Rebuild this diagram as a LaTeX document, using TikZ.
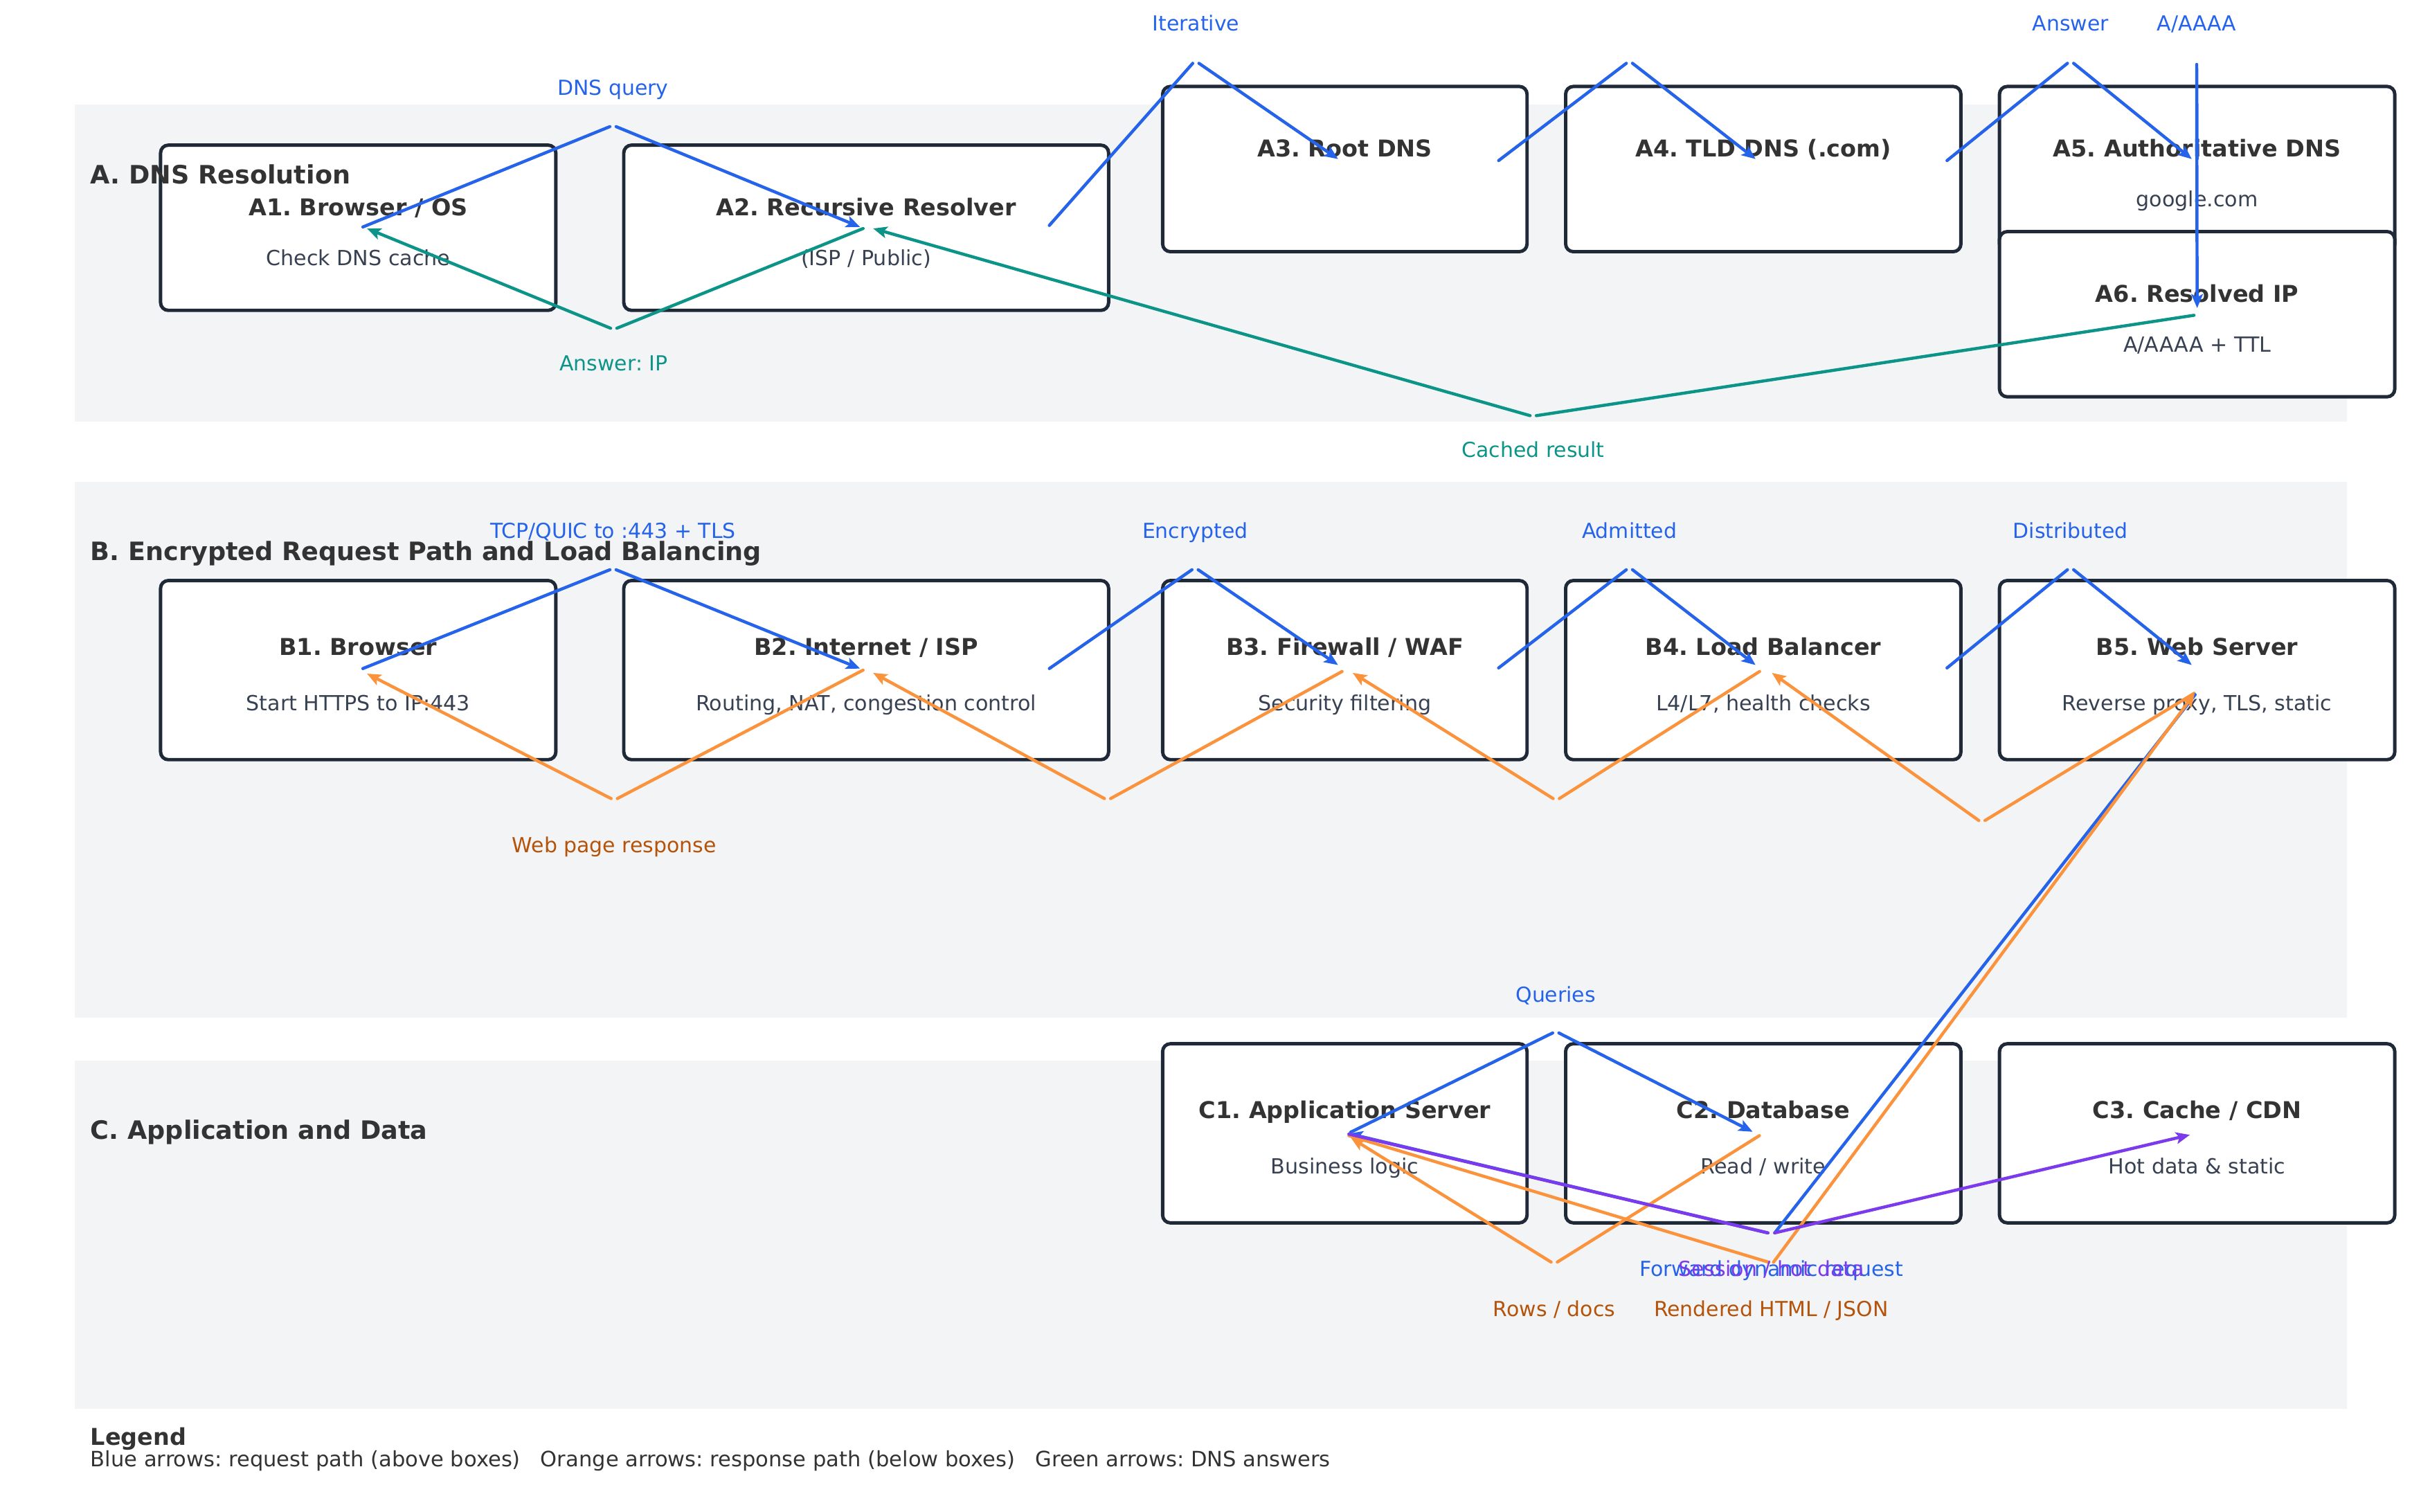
\documentclass[tikz,border=0pt]{standalone}
\usepackage{fontspec}
\setmainfont{DejaVu Sans}
\usetikzlibrary{arrows.meta}
\definecolor{panelgray}{HTML}{F3F4F6}
\definecolor{boxline}{HTML}{1F2937}
\definecolor{ink}{HTML}{333333}
\definecolor{subink}{HTML}{374151}
\definecolor{reqblue}{HTML}{2563EB}
\definecolor{dnsgreen}{HTML}{0D9488}
\definecolor{resporange}{HTML}{FB923C}
\definecolor{resptext}{HTML}{B45309}
\definecolor{hotpurple}{HTML}{7C3AED}
\frenchspacing
\tikzset{procbox/.style n args={2}{draw=boxline, line width=2.2pt, fill=white, rounded corners=5pt, minimum width=#1, minimum height=#2, inner sep=0pt},
  boxtitle/.style={anchor=base, inner sep=0pt, text=ink, font=\fontsize{15}{18}\selectfont\bfseries},
  boxsub/.style={anchor=base, inner sep=0pt, text=subink, font=\fontsize{13.5}{16}\selectfont},
  sectitle/.style={anchor=base west, inner sep=0pt, text=ink, font=\fontsize{16.4}{20}\selectfont\bfseries},
  lbl/.style={anchor=base, inner sep=0pt, font=\fontsize{13.4}{16}\selectfont},
  flow/.style={line width=2pt, line cap=round, line join=round, -{Stealth[length=9pt,width=7.5pt,inset=2pt]}},
  req/.style={flow, draw=reqblue}, resp/.style={flow, draw=resporange},
  dnsans/.style={flow, draw=dnsgreen}, hotdata/.style={flow, draw=hotpurple}}

\begin{document}
\begin{tikzpicture}[x=1pt, y=-1pt]
  \useasboundingbox (0,0) rectangle (1568,979);
  % section bands
  \fill[panelgray] (48.5, 67.7) rectangle (1520,273);
  \fill[panelgray] (48.5,312) rectangle (1520,659);
  \fill[panelgray] (48.5,687) rectangle (1520,912.4);

  % row A
  \node[procbox={256pt}{107pt}] (A1) at ( 232,147.5) {};
  \node[procbox={314pt}{107pt}] (A2) at ( 561,147.5) {};
  \node[procbox={236pt}{107pt}] (A3) at ( 871,109.5) {};
  \node[procbox={256pt}{107pt}] (A4) at (1142,109.5) {};
  \node[procbox={256pt}{107pt}] (A5) at (1423,109.5) {};
  \node[procbox={256pt}{107pt}] (A6) at (1423,203.5) {};
  \node[boxtitle] (A1t) at ([yshift=8pt]A1.center) {A1. Browser / OS};
  \node[boxsub]   (A1s) at ([yshift=-24.5pt]A1.center) {Check DNS cache};
  \node[boxtitle] (A2t) at ([yshift=8pt]A2.center) {A2. Recursive Resolver};
  \node[boxsub]   (A2s) at ([yshift=-24.5pt]A2.center) {(ISP / Public)};
  \node[boxtitle] (A3t) at ([yshift=8pt]A3.center) {A3. Root DNS};
  \node[boxtitle] (A4t) at ([yshift=8pt]A4.center) {A4. TLD DNS (.com)};
  \node[boxtitle] (A5t) at ([yshift=8pt]A5.center) {A5. Authoritative DNS};
  \node[boxsub]   (A5s) at ([yshift=-24.5pt]A5.center) {google.com};
  \node[boxtitle] (A6t) at ([yshift=8pt]A6.center) {A6. Resolved IP};
  \node[boxsub]   (A6s) at ([yshift=-24.5pt]A6.center) {A/AAAA + TTL};

  % row B
  \node[procbox={256pt}{116pt}] (B1) at ( 232,434) {};
  \node[procbox={314pt}{116pt}] (B2) at ( 561,434) {};
  \node[procbox={236pt}{116pt}] (B3) at ( 871,434) {};
  \node[procbox={256pt}{116pt}] (B4) at (1142,434) {};
  \node[procbox={256pt}{116pt}] (B5) at (1423,434) {};
  \node[boxtitle] (B1t) at ([yshift=9.5pt]B1.center) {B1. Browser};
  \node[boxsub]   (B1s) at ([yshift=-26.3pt]B1.center) {Start HTTPS to IP:443};
  \node[boxtitle] (B2t) at ([yshift=9.5pt]B2.center) {B2. Internet / ISP};
  \node[boxsub]   (B2s) at ([yshift=-26.3pt]B2.center) {Routing, NAT, congestion control};
  \node[boxtitle] (B3t) at ([yshift=9.5pt]B3.center) {B3. Firewall / WAF};
  \node[boxsub]   (B3s) at ([yshift=-26.3pt]B3.center) {Security filtering};
  \node[boxtitle] (B4t) at ([yshift=9.5pt]B4.center) {B4. Load Balancer};
  \node[boxsub]   (B4s) at ([yshift=-26.3pt]B4.center) {L4/L7, health checks};
  \node[boxtitle] (B5t) at ([yshift=9.5pt]B5.center) {B5. Web Server};
  \node[boxsub]   (B5s) at ([yshift=-26.3pt]B5.center) {Reverse proxy, TLS, static};

  % row C
  \node[procbox={236pt}{116pt}] (C1) at ( 871,734) {};
  \node[procbox={256pt}{116pt}] (C2) at (1142,734) {};
  \node[procbox={256pt}{116pt}] (C3) at (1423,734) {};
  \node[boxtitle] (C1t) at ([yshift=9.5pt]C1.center) {C1. Application Server};
  \node[boxsub]   (C1s) at ([yshift=-26.3pt]C1.center) {Business logic};
  \node[boxtitle] (C2t) at ([yshift=9.5pt]C2.center) {C2. Database};
  \node[boxsub]   (C2s) at ([yshift=-26.3pt]C2.center) {Read / write};
  \node[boxtitle] (C3t) at ([yshift=9.5pt]C3.center) {C3. Cache / CDN};
  \node[boxsub]   (C3s) at ([yshift=-26.3pt]C3.center) {Hot data \& static};

  % section titles sit over the boxes
  \node[sectitle] (secA) at (58.5,119) {A. DNS Resolution};
  \node[sectitle] (secB) at (58.5,363) {B. Encrypted Request Path and Load Balancing};
  \node[sectitle] (secC) at (58.5,738) {C. Application and Data};

  % bend points of the connectors
  \coordinate (q1) at (397,82);      \coordinate (q2) at (397.5,212.6);
  \coordinate (q3) at (993,269.2);   \coordinate (q4) at (774.5,41);
  \coordinate (q5) at (1055.3,41);   \coordinate (q6) at (1341,41);
  \coordinate (q7) at (1422.7,41.7);
  \coordinate (b1) at (397,369);     \coordinate (b2) at (397.8,517.2);
  \coordinate (b3) at (774,369);     \coordinate (b4) at (717.3,517.2);
  \coordinate (b5) at (1055.3,369);  \coordinate (b6) at (1007.9,517.2);
  \coordinate (b7) at (1341,369);    \coordinate (b8) at (1283.6,531.4);
  \coordinate (c1) at (1007.6,669);  \coordinate (c2) at (1006.6,817.4);
  \coordinate (c3) at (1147.2,798.5); \coordinate (c4) at (1147.1,817.5);

  % DNS resolution
  \draw[req] ([xshift=3pt,yshift=0.5pt]A1.center) -- ([xshift=-2pt]q1) ([xshift=2pt]q1) -- ([xshift=-4pt,yshift=0.5pt]A2.center);
  \draw[dnsans] ([xshift=-2pt,yshift=-0.5pt]A2.center) -- ([xshift=2pt]q2) ([xshift=-2pt]q2) -- ([xshift=5.7pt,yshift=-0.5pt]A1.center);
  \draw[req] ([xshift=118.6pt,yshift=1.5pt]A2.center) -- ([xshift=-2pt]q4) ([xshift=2pt]q4) -- ([xshift=-4.4pt,yshift=6.5pt]A3.center);
  \draw[req] ([xshift=99.6pt,yshift=5.5pt]A3.center) -- ([xshift=-2pt]q5) ([xshift=2pt]q5) -- ([xshift=-5pt,yshift=6.5pt]A4.center);
  \draw[req] ([xshift=119pt,yshift=5.5pt]A4.center) -- ([xshift=-2pt]q6) ([xshift=2pt]q6) -- ([xshift=-3.5pt,yshift=6.5pt]A5.center);
  \draw[req] ([yshift=6.5pt]A5.center) -- (q7) -- ([yshift=4pt]A6.center);
  \draw[dnsans] ([xshift=-2pt,yshift=-0.7pt]A6.center) -- ([xshift=2pt]q3) ([xshift=-2pt]q3) -- ([xshift=4.5pt,yshift=-0.5pt]A2.center);

  % request path and responses
  \draw[req] ([xshift=3pt,yshift=1pt]B1.center) -- ([xshift=-2pt]b1) ([xshift=2pt]b1) -- ([xshift=-4pt,yshift=1pt]B2.center);
  \draw[req] ([xshift=118.6pt,yshift=1pt]B2.center) -- ([xshift=-2pt]b3) ([xshift=2pt]b3) -- ([xshift=-4.4pt,yshift=3.3pt]B3.center);
  \draw[req] ([xshift=99.6pt,yshift=1.4pt]B3.center) -- ([xshift=-2pt]b5) ([xshift=2pt]b5) -- ([xshift=-5pt,yshift=3.3pt]B4.center);
  \draw[req] ([xshift=119pt,yshift=1.4pt]B4.center) -- ([xshift=-2pt]b7) ([xshift=2pt]b7) -- ([xshift=-3.5pt,yshift=3.3pt]B5.center);
  \draw[resp] ([xshift=-2pt]B2.center) -- ([xshift=2pt]b2) ([xshift=-2pt]b2) -- ([xshift=5.7pt,yshift=-2.3pt]B1.center);
  \draw[resp] ([xshift=-1.8pt,yshift=-0.9pt]B3.center) -- ([xshift=2pt]b4) ([xshift=-2pt]b4) -- ([xshift=4.5pt,yshift=-1.8pt]B2.center);
  \draw[resp] ([xshift=-2.4pt,yshift=-0.9pt]B4.center) -- ([xshift=2pt]b6) ([xshift=-2pt]b6) -- ([xshift=5.1pt,yshift=-1.8pt]B3.center);
  \draw[resp] ([xshift=-1.9pt,yshift=-15pt]B5.center) -- ([xshift=2pt]b8) ([xshift=-2pt]b8) -- ([xshift=5.6pt,yshift=-1.8pt]B4.center);

  % application and data
  \draw[req] ([xshift=-1.3pt,yshift=-15.9pt]B5.center) -- ([xshift=2.2pt]c3) ([xshift=-2.2pt]c3) -- ([xshift=2.6pt,yshift=-0.2pt]C1.center);
  \draw[resp] ([xshift=2.6pt,yshift=-1.5pt]C1.center) -- ([xshift=-1.5pt]c4) ([xshift=1.5pt]c4) -- ([xshift=-1.6pt,yshift=-15.1pt]B5.center);
  \draw[req] ([xshift=3.7pt,yshift=0.7pt]C1.center) -- ([xshift=-2pt]c1) ([xshift=2pt]c1) -- ([xshift=-6.9pt,yshift=1pt]C2.center);
  \draw[resp] ([xshift=-2.5pt,yshift=-1.5pt]C2.center) -- ([xshift=2pt]c2) ([xshift=-2pt]c2) -- ([xshift=4pt,yshift=-3pt]C1.center);
  \draw[hotdata] ([xshift=2.6pt,yshift=-0.5pt]C1.center) -- ([xshift=-2.2pt]c3) ([xshift=2.2pt]c3) -- ([xshift=-4.7pt,yshift=-1pt]C3.center);

  % connector labels
  \node[lbl, text=reqblue] (lq1) at ([yshift=20.3pt]q1) {DNS query};
  \node[lbl, text=dnsgreen] (lq2) at ([yshift=-27.6pt]q2) {Answer: IP};
  \node[lbl, text=dnsgreen] (lq3) at ([yshift=-27.1pt]q3) {Cached result};
  \node[lbl, text=reqblue] (lq4) at ([yshift=21pt]q4) {Iterative};
  \node[lbl, text=reqblue] (lq6) at ([yshift=21pt]q6) {Answer};
  \node[lbl, text=reqblue] (lq7) at ([yshift=21.7pt]q7) {A/AAAA};
  \node[lbl, text=reqblue] (lb1) at ([yshift=20.6pt]b1) {TCP/QUIC to :443 + TLS};
  \node[lbl, text=resptext] (lb2) at ([yshift=-34.8pt]b2) {Web page response};
  \node[lbl, text=reqblue] (lb3) at ([yshift=20.6pt]b3) {Encrypted};
  \node[lbl, text=reqblue] (lb5) at ([yshift=20.6pt]b5) {Admitted};
  \node[lbl, text=reqblue] (lb7) at ([yshift=20.6pt]b7) {Distributed};
  \node[lbl, text=reqblue] (lc1) at ([yshift=19.8pt]c1) {Queries};
  \node[lbl, text=resptext] (lc2) at ([yshift=-35.1pt]c2) {Rows / docs};
  \node[lbl, text=reqblue] (lc3a) at ([yshift=-28.3pt]c3) {Forward dynamic request};
  \node[lbl, text=hotpurple] (lc3b) at ([yshift=-28.3pt]c3) {Session / hot data};
  \node[lbl, text=resptext] (lc4) at ([yshift=-35pt]c4) {Rendered HTML / JSON};

  % legend
  \node[sectitle, font=\fontsize{15}{18}\selectfont\bfseries] (leg) at (58.5,936) {Legend};
  \node[lbl, anchor=base west, text=ink, font=\fontsize{13.7}{16}\selectfont] (legtxt) at (58.5,950) {Blue arrows: request path (above boxes)~~~Orange arrows: response path (below boxes)~~~Green arrows: DNS answers};
\end{tikzpicture}
\end{document}
